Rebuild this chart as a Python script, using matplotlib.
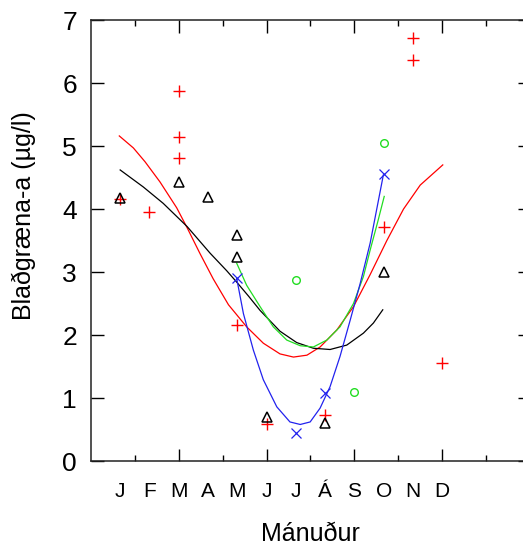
#Seasonal chlorophyll-a plot
import matplotlib
matplotlib.use('Agg')
import matplotlib.pyplot as plt

plt.rcParams['font.family'] = ['Liberation Sans', 'DejaVu Sans']

######################################
#...............Data.................#
######################################

#Month letters (Icelandic)
MONTHS = ['J', 'F', 'M', 'A', 'M', 'J', 'J', 'Á', 'S', 'O', 'N', 'D']

#Red plus series (month, value)
red_m = [1, 2, 3, 3, 3, 5, 6, 8, 10, 11, 11, 12]
red_v = [4.16, 3.95, 5.87, 5.14, 4.81, 2.16, 0.59, 0.73, 3.71, 6.71, 6.36, 1.56]

#Black triangle series
blk_m = [1, 3, 4, 5, 5, 6, 8, 10]
blk_v = [4.18, 4.43, 4.19, 3.59, 3.24, 0.70, 0.61, 3.00]

#Blue cross series
blu_m = [5, 7, 8, 10]
blu_v = [2.90, 0.45, 1.08, 4.55]

#Green circle series
grn_m = [7, 9, 10]
grn_v = [2.88, 1.09, 5.04]

#Fitted curves
red_fit_m = [0.97, 1.45, 1.85, 2.36, 2.93, 3.29, 3.73, 4.18, 4.70, 5.32, 5.89, 6.46,
             6.92, 7.38, 7.83, 8.40, 8.97, 9.54, 10.11, 10.68, 11.25, 12.02]
red_fit_v = [5.16, 4.97, 4.75, 4.43, 4.02, 3.70, 3.29, 2.89, 2.48, 2.13, 1.87, 1.70,
             1.65, 1.68, 1.81, 2.08, 2.45, 2.96, 3.50, 4.00, 4.38, 4.70]

blk_fit_m = [1.0, 1.79, 2.47, 3.29, 4.07, 4.64, 4.98, 5.38, 5.78, 6.46, 7.03, 7.60,
             8.17, 8.74, 9.31, 9.65, 9.97]
blk_fit_v = [4.62, 4.35, 4.09, 3.72, 3.30, 3.02, 2.84, 2.62, 2.39, 2.06, 1.88, 1.79,
             1.77, 1.84, 2.03, 2.19, 2.40]

grn_fit_m = [4.98, 5.32, 5.78, 6.23, 6.69, 7.15, 7.60, 8.06, 8.51, 8.97, 9.31, 9.54,
             9.80, 10.02]
grn_fit_v = [3.14, 2.79, 2.45, 2.13, 1.92, 1.83, 1.81, 1.92, 2.13, 2.50, 2.93, 3.35,
             3.80, 4.20]

blu_fit_m = [4.98, 5.21, 5.55, 5.89, 6.35, 6.80, 7.15, 7.49, 7.83, 8.17, 8.51, 8.86,
             9.20, 9.54, 9.99]
blu_fit_v = [2.90, 2.34, 1.76, 1.29, 0.86, 0.62, 0.58, 0.62, 0.84, 1.18, 1.66, 2.24,
             2.82, 3.46, 4.54]

######################################
#...............Plot.................#
######################################

fig = plt.figure(figsize=(5.23, 5.47), dpi=100)
#axes run past the right edge of the picture, as in the original
ax = fig.add_axes([0.1738, 0.1572, 0.8396, 0.8062])

RED = '#ff0000'
GRN = '#22dd22'
BLU = '#2222ee'

ax.plot(red_fit_m, red_fit_v, color=RED, lw=0.9)
ax.plot(blk_fit_m, blk_fit_v, color='black', lw=0.9)
ax.plot(grn_fit_m, grn_fit_v, color=GRN, lw=0.9)
ax.plot(blu_fit_m, blu_fit_v, color=BLU, lw=0.9)

ax.plot(red_m, red_v, ls='none', marker='+', ms=8, mew=1, color=RED)
ax.plot(blk_m, blk_v, ls='none', marker='^', ms=6.5, mew=1.1, mfc='none', mec='black')
ax.plot(blu_m, blu_v, ls='none', marker='x', ms=6.5, mew=0.9, color=BLU)
ax.plot(grn_m, grn_v, ls='none', marker='o', ms=5.5, mew=1, mfc='none', mec=GRN)

ax.set_xlim(0, 15)
ax.set_ylim(0, 7)

ax.set_xticks([3, 6, 9, 12])
ax.set_xticks([1.5, 4.5, 7.5, 10.5, 13.5], minor=True)
ax.set_xticklabels([])
ax.set_yticks(range(0, 8))
ax.tick_params(axis='both', which='major', direction='in', length=9, width=1,
               top=True, right=True, labelsize=19, pad=10)
ax.tick_params(axis='x', which='minor', direction='in', length=4.5, width=1, top=True)
for s in ax.spines.values():
    s.set_linewidth(1.1)
    s.set_color('#222222')

#month letters under the axis
for i, name in enumerate(MONTHS):
    ax.text(i + 1, -0.070, name, transform=ax.get_xaxis_transform(),
            ha='center', va='center', fontsize=15)

#x label sits right at the bottom edge, as in the original
ax.text(0.5, (461 - 541) / 441, 'Mánuður', transform=ax.transAxes,
        ha='center', va='baseline', fontsize=18)
fig.text(24 / 523, 1 - 216 / 547, 'Blaðgræna-a (µg/l)', rotation=90,
         ha='center', va='center', fontsize=18)

fig.savefig('out.png', dpi=100)
